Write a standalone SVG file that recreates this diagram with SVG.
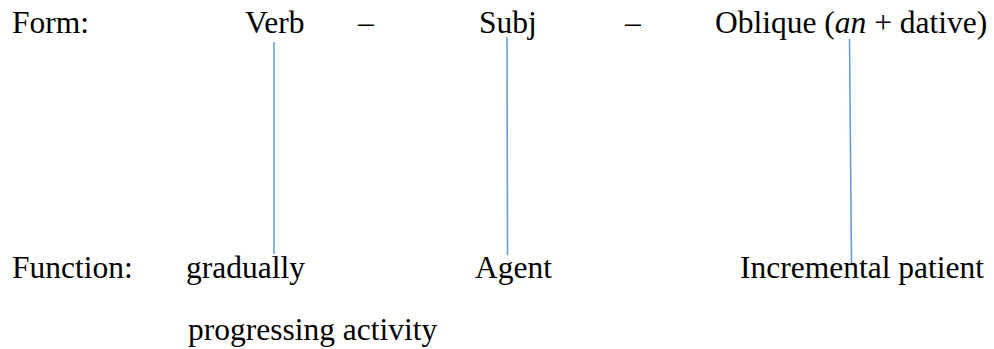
<svg xmlns="http://www.w3.org/2000/svg" width="994" height="349" viewBox="0 0 994 349">
<style>
text{font-family:"Liberation Serif","Times New Roman",serif;font-size:31.5px;fill:#000}
.c{stroke:#5B9BD5;stroke-width:1.5;fill:none}
</style>
<rect width="994" height="349" fill="#fff"/>
<g id="form-label"><text x="12" y="33">Form:</text></g>
<g id="verb"><text x="245" y="33">Verb</text></g>
<g id="dash1"><text x="358" y="33">–</text></g>
<g id="subj"><text x="479" y="33">Subj</text></g>
<g id="dash2"><text x="625" y="33">–</text></g>
<g id="oblique"><text x="715" y="33">Oblique (<tspan font-style="italic">an</tspan> + dative)</text></g>
<g id="function-label"><text x="12" y="278">Function:</text></g>
<g id="gradually"><text x="186" y="278">gradually</text><text x="188" y="340">progressing activity</text></g>
<g id="agent"><text x="475" y="278">Agent</text></g>
<g id="patient"><text x="740" y="278">Incremental patient</text></g>
<g id="connectors">
<line class="c" x1="274" y1="42" x2="274" y2="254"/>
<line class="c" x1="507" y1="37" x2="507.5" y2="255"/>
<line class="c" x1="849.5" y1="39" x2="851.5" y2="263"/>
</g>
</svg>
